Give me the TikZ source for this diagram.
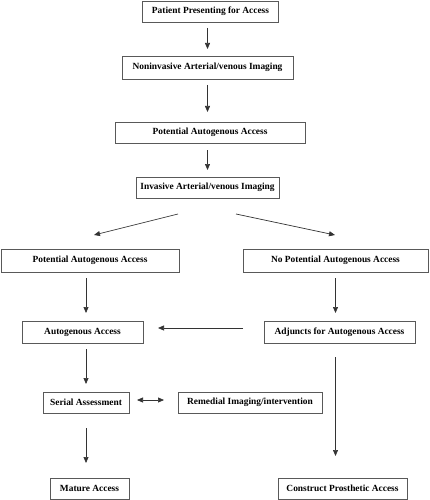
\documentclass[tikz,border=0pt]{standalone}
\usepackage{fontspec}
\setmainfont{Liberation Serif}
\usetikzlibrary{arrows.meta}
\begin{document}
\begin{tikzpicture}[x=1pt,y=-1pt,
  box/.style={draw=black!65, line width=0.8pt, inner sep=0pt, outer sep=0pt,
    font=\fontsize{9.4}{11}\selectfont\bfseries, align=center},
  arr/.style={draw=black!80, line width=0.7pt, -{Triangle[length=6pt,width=5pt]}},
  darr/.style={draw=black!80, line width=0.7pt, {Triangle[length=6pt,width=5pt]}-{Triangle[length=6pt,width=5pt]}}]
\useasboundingbox (0,0) rectangle (429,500);
\node[box, minimum width=136pt, minimum height=21pt] (b1) at (210.5,11.5) {Patient Presenting for Access};
\node[box, minimum width=171pt, minimum height=23pt] (b2) at (207.5,67.5) {Noninvasive Arterial/venous Imaging};
\node[box, minimum width=190pt, minimum height=21pt] (b3) at (210,132.5) {Potential Autogenous Access};
\node[box, minimum width=143pt, minimum height=21pt] (b4) at (207.5,187.5) {Invasive Arterial/venous Imaging};
\node[box, minimum width=178pt, minimum height=23pt] (b5l) at (90,260.5) {Potential Autogenous Access};
\node[box, minimum width=185pt, minimum height=23pt] (b5r) at (335.5,260.5) {No Potential Autogenous Access};
\node[box, minimum width=121pt, minimum height=22pt] (b6l) at (82.5,332) {Autogenous Access};
\node[box, minimum width=151pt, minimum height=22pt] (b6r) at (339.5,332) {Adjuncts for Autogenous Access};
\node[box, minimum width=86pt, minimum height=21pt] (ser) at (86,402.5) {Serial Assessment};
\node[box, minimum width=144pt, minimum height=21pt] (rem) at (250,402.5) {Remedial Imaging/intervention};
\node[box, minimum width=79pt, minimum height=21pt] (mat) at (89.5,488.5) {Mature Access};
\node[box, minimum width=129pt, minimum height=21pt] (con) at (342.5,488.5) {Construct Prosthetic Access};
\coordinate (dl1) at (178,214);
\coordinate (dl2) at (94,235);
\coordinate (dr1) at (236,214);
\coordinate (dr2) at (335,235);
\draw[arr, shorten <=6pt, shorten >=7pt] (b1.south -| b2.north) -- (b2.north);
\draw[arr, shorten <=6pt, shorten >=10pt] (b2.south) -- (b3.north -| b2.south);
\draw[arr, shorten <=7pt, shorten >=7pt] (b3.south -| b2.south) -- (b4.north -| b2.south);
\draw[arr] (dl1) -- (dl2);
\draw[arr] (dr1) -- (dr2);
\draw[arr, shorten <=6pt, shorten >=8pt] (b5l.south -| ser.north) -- (b6l.north -| ser.north);
\draw[arr, shorten <=6pt, shorten >=8pt] (b5r.south) -- (b6r.north -| b5r.south);
\draw[arr, shorten <=21pt, shorten >=15pt] ([yshift=4pt]b6r.west) -- ([yshift=4pt]b6l.east);
\draw[arr, shorten <=6pt, shorten >=8pt] (b6l.south -| ser.north) -- (ser.north);
\draw[darr, shorten <=8pt, shorten >=14pt] ([yshift=2.5pt]ser.east) -- ([yshift=2.5pt]rem.west);
\draw[arr, shorten <=15pt, shorten >=15pt] (ser.south) -- (mat.north -| ser.south);
\draw[arr, shorten <=14pt, shorten >=22pt] (b6r.south -| b5r.south) -- (con.north -| b5r.south);
\end{tikzpicture}
\end{document}
